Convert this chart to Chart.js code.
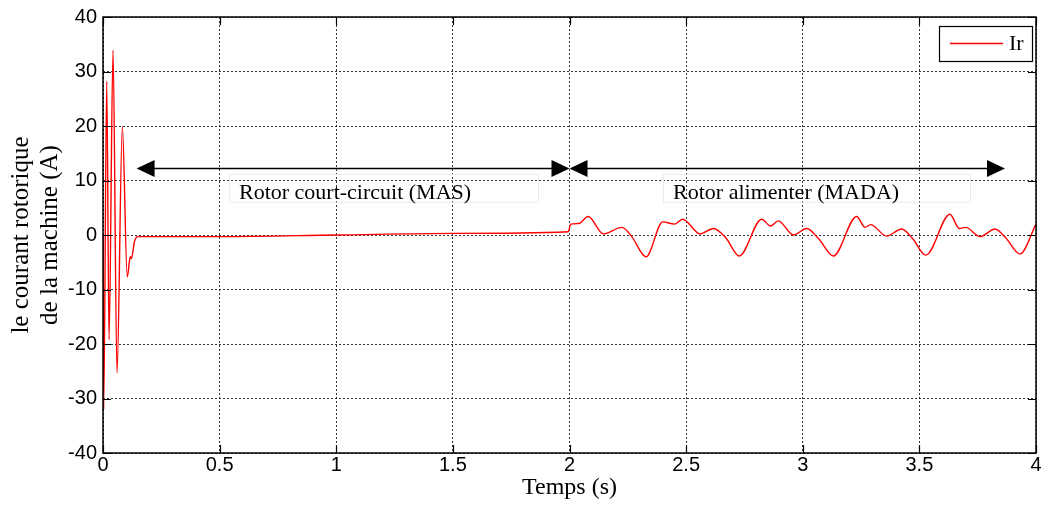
<!DOCTYPE html>
<html lang="fr">
<head>
<meta charset="utf-8">
<title>Courant rotorique</title>
<script src="https://cdn.jsdelivr.net/npm/chart.js@4.4.1/dist/chart.umd.min.js"></script>
<style>
    html, body { margin: 0; padding: 0; background: #fff; }
    #chart { display: block; }
</style>
</head>
<body>
<canvas id="chart" width="1047" height="513"></canvas>
<script>
// Time (s) and rotor current Ir (A)
const timeValues = [
    0, 0.003, 0.016, 0.026, 0.043, 0.060, 0.083, 0.104, 0.117, 0.122, 0.135, 0.150,
    0.5, 1.0, 1.5, 1.995,
    2.005, 2.04, 2.08, 2.145, 2.225, 2.267, 2.328, 2.40, 2.45, 2.485, 2.56, 2.617,
    2.67, 2.728, 2.824, 2.862, 2.895, 2.96, 3.017, 3.07, 3.131, 3.231, 3.267, 3.291,
    3.36, 3.424, 3.47, 3.528, 3.631, 3.671, 3.699, 3.76, 3.824, 3.87, 3.931, 4.0
];
const rotorCurrent = [
    0, -32.0, 28.2, -19.2, 33.9, -25.3, 19.9, -7.7, -4.0, -4.3, -1.2, -0.3,
    -0.3, 0.0, 0.3, 0.6,
    2.0, 2.1, 3.4, 0.2, 1.4, -0.3, -4.0, 2.4, 2.0, 2.9, 0.2, 1.2,
    -0.5, -3.85, 2.9, 1.65, 2.6, 0.0, 1.2, -0.8, -3.85, 3.4, 1.4, 1.9,
    -0.2, 1.1, -0.6, -3.7, 3.8, 1.2, 1.4, -0.3, 1.1, -0.5, -3.5, 2.0
];

// Double arrows over the trace (s, A)
const arrowStarts = [0.144, 2.0];
const arrowEnds   = [2.0, 3.867];
const arrowLevel  = 12.2;

// Operating mode labels and their faint frames (s, A)
const regionTexts    = ["Rotor court-circuit (MAS)", "Rotor alimenter (MADA)"];
const regionBoxStart = [0.54, 2.401];
const regionBoxEnd   = [1.865, 3.717];
const regionBoxTop    = 11.2;
const regionBoxBottom = 6.1;

const seriesName = "Ir";

/**
 * Filled triangular arrow head pointing in direction dir (+1 right, -1 left).
 */
function drawArrowHead(ctx, tipX, tipY, dir)
{
    ctx.beginPath();
    ctx.moveTo(tipX, tipY);
    ctx.lineTo(tipX - dir * 18, tipY - 8.5);
    ctx.lineTo(tipX - dir * 18, tipY + 8.5);
    ctx.closePath();
    ctx.fill();
}

/**
 * Draws the annotations, the axes frame with inner ticks and the legend.
 */
const overlayPlugin = {
    id: "overlay",
    afterDatasetsDraw(chart)
    {
        const ctx  = chart.ctx;
        const area = chart.chartArea;
        const x    = chart.scales.x;
        const y    = chart.scales.y;

        ctx.save();

        // mode labels
        ctx.font = "22px 'Liberation Serif'";
        ctx.textBaseline = "alphabetic";
        ctx.textAlign = "left";
        regionTexts.forEach((text, i) => {
            const left   = x.getPixelForValue(regionBoxStart[i]);
            const right  = x.getPixelForValue(regionBoxEnd[i]);
            const top    = y.getPixelForValue(regionBoxTop);
            const bottom = y.getPixelForValue(regionBoxBottom);
            ctx.strokeStyle = "#ebebeb";
            ctx.lineWidth = 1;
            ctx.strokeRect(left + 0.5, top + 0.5, right - left, bottom - top);
            ctx.fillStyle = "#000";
            ctx.fillText(text, left + 10, bottom - 2.5);
        });

        // arrows
        ctx.strokeStyle = "#000";
        ctx.fillStyle = "#000";
        ctx.lineWidth = 1.5;
        const ay = y.getPixelForValue(arrowLevel);
        arrowStarts.forEach((start, i) => {
            const x0 = x.getPixelForValue(start);
            const x1 = x.getPixelForValue(arrowEnds[i]);
            ctx.beginPath();
            ctx.moveTo(x0 + 10, ay);
            ctx.lineTo(x1 - 10, ay);
            ctx.stroke();
            drawArrowHead(ctx, x0, ay, -1);
            drawArrowHead(ctx, x1, ay, 1);
        });

        // frame and inward ticks
        ctx.lineWidth = 1.5;
        ctx.strokeRect(area.left, area.top, area.right - area.left, area.bottom - area.top);
        ctx.lineWidth = 1.2;
        ctx.beginPath();
        x.ticks.forEach((t) => {
            const px = Math.round(x.getPixelForValue(t.value)) + 0.5;
            ctx.moveTo(px, area.bottom);
            ctx.lineTo(px, area.bottom - 8);
            ctx.moveTo(px, area.top);
            ctx.lineTo(px, area.top + 8);
        });
        y.ticks.forEach((t) => {
            const py = Math.round(y.getPixelForValue(t.value)) + 0.5;
            ctx.moveTo(area.left, py);
            ctx.lineTo(area.left + 8, py);
            ctx.moveTo(area.right, py);
            ctx.lineTo(area.right - 8, py);
        });
        ctx.stroke();

        // legend
        const boxW = 93;
        const boxH = 35;
        const boxX = area.right - 4 - boxW;
        const boxY = area.top + 9;
        ctx.fillStyle = "#fff";
        ctx.fillRect(boxX, boxY, boxW, boxH);
        ctx.strokeStyle = "#000";
        ctx.lineWidth = 1.2;
        ctx.strokeRect(boxX + 0.5, boxY + 0.5, boxW, boxH);
        ctx.strokeStyle = "#ff0000";
        ctx.lineWidth = 1.3;
        ctx.beginPath();
        ctx.moveTo(boxX + 11, boxY + 17.5);
        ctx.lineTo(boxX + 64, boxY + 17.5);
        ctx.stroke();
        ctx.fillStyle = "#000";
        ctx.font = "22px 'Liberation Serif'";
        ctx.textBaseline = "middle";
        ctx.fillText(seriesName, boxX + 70, boxY + 18);

        ctx.restore();
    }
};

const gridStyle = {
    color: "rgba(0, 0, 0, 0.8)",
    lineWidth: 1,
    drawTicks: false,
};

new Chart(document.getElementById("chart"), {
    type: "line",
    data: {
        datasets: [{
            label: seriesName,
            data: timeValues.map((t, i) => ({x: t, y: rotorCurrent[i]})),
            borderColor: "#ff0000",
            borderWidth: 1.4,
            pointRadius: 0,
            cubicInterpolationMode: "monotone",
            fill: false,
        }],
    },
    options: {
        responsive: false,
        animation: false,
        devicePixelRatio: 1,
        layout: {padding: {top: 17, right: 11, left: 0, bottom: 0}},
        plugins: {
            legend: {display: false},
            tooltip: {enabled: false},
        },
        scales: {
            x: {
                type: "linear",
                min: 0,
                max: 4,
                grid: gridStyle,
                border: {display: false, dash: [2, 2]},
                ticks: {
                    stepSize: 0.5,
                    padding: 2,
                    color: "#000",
                    maxRotation: 0,
                    font: {family: "'Liberation Sans'", size: 20, lineHeight: 1},
                    callback: (value) => String(value),
                },
                title: {
                    display: true,
                    text: "Temps (s)",
                    color: "#000",
                    font: {family: "'Liberation Serif'", size: 24, lineHeight: 1.15},
                    padding: {top: 0, bottom: 11},
                },
                afterFit(scale) { scale.height = 60; },
            },
            y: {
                min: -40,
                max: 40,
                grid: gridStyle,
                border: {display: false, dash: [2, 2]},
                ticks: {
                    stepSize: 10,
                    padding: 6,
                    color: "#000",
                    font: {family: "'Liberation Sans'", size: 20, lineHeight: 1},
                },
                title: {
                    display: true,
                    text: ["le courant rotorique", "de la machine (A)"],
                    color: "#000",
                    font: {family: "'Liberation Serif'", size: 25, lineHeight: 1.15},
                    padding: {top: 7, bottom: 0},
                },
                afterFit(scale) { scale.width = 103; },
            },
        },
    },
    plugins: [overlayPlugin],
});
</script>
</body>
</html>
